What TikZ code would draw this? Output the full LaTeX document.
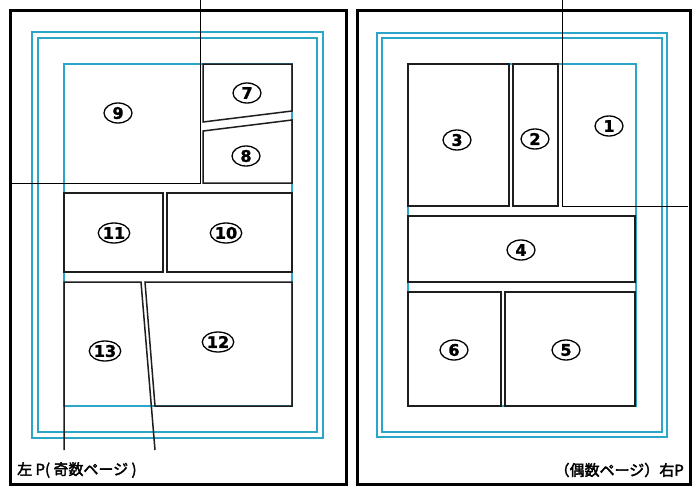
\documentclass[tikz,border=0pt]{standalone}
\usepackage{fontspec}
\usetikzlibrary{shapes.geometric}
\newfontfamily\jpfont{Noto Sans CJK JP}[AutoFakeBold=2.5]
\newfontfamily\numfont{DejaVu Sans}[BoldFeatures={FakeBold=1.6}]
\definecolor{mCyan}{HTML}{2CA6C8}
\definecolor{mInk} {HTML}{1E1E1E}

\begin{document}
\begin{tikzpicture}[
  x=1pt, y=-1pt,
  page/.style={draw=black, line width=3pt},
  guide/.style={draw=mCyan, line width=1.4pt},
  koma/.style={draw=mInk, line width=1.5pt},
  crop/.style={draw=black, line width=0.9pt},
  num/.style={ellipse, draw=black, line width=1.3pt, fill=white, inner sep=0pt,
              minimum width=28pt, minimum height=20pt, font=\numfont\bfseries\fontsize{16}{16}\selectfont},
  pglbl/.style={font=\jpfont\bfseries\fontsize{15}{15}\selectfont, inner sep=0pt},
]
\useasboundingbox (0,0) rectangle (700,495);

% ============================================================ LEFT PAGE
% ---- trim / bleed guides
\draw[guide] (32,32) rectangle (323,438);
\draw[guide] (38,38) rectangle (317,432);
\draw[guide] (64,64) rectangle (292,406);
\draw[page]  (10,11) rectangle (346,484);

% ---- panels
\draw[crop] (200,0) -- (200,183) -- (12,183);                      % 9 (bleed)
\draw[koma] (203,64) -- (292,64) -- (292,111) -- (203,122) -- cycle; % 7
\draw[koma] (203,131) -- (292,120) -- (292,183) -- (203,183) -- cycle; % 8
\draw[koma] (64,193) rectangle (163,272);                          % 11
\draw[koma] (167,193) rectangle (292,272);                         % 10
\draw[koma] (64,450) -- (64,282) -- (141,282) -- (155,450);        % 13 (bleed)
\draw[koma] (145,282) -- (292,282) -- (292,406) -- (155,406) -- cycle; % 12

\node[num] (n9)  at (118,113) {9};
\node[num] (n7)  at (247,93)  {7};
\node[num] (n8)  at (246,156) {8};
\node[num] (n11) at (114,233) {11};
\node[num] (n10) at (226,233) {10};
\node[num] (n13) at (105,351) {13};
\node[num] (n12) at (218,342) {12};

\node[pglbl, anchor=west] (lp) at (17,470) {左 P( 奇数ページ )};

% ============================================================ RIGHT PAGE
% ---- trim / bleed guides
\draw[guide] (377,33) rectangle (667,437);
\draw[guide] (382,38) rectangle (662,432);
\draw[guide] (408,64) rectangle (636,406);
\draw[page]  (357,11) rectangle (690,484);

% ---- panels
\draw[crop] (562,0) -- (562,206) -- (688,206);                     % 1 (bleed)
\draw[koma] (513,64) rectangle (558,206);                          % 2
\draw[koma] (408,64) rectangle (509,206);                          % 3
\draw[koma] (408,216) rectangle (635,282);                         % 4
\draw[koma] (505,292) rectangle (635,406);                         % 5
\draw[koma] (408,292) rectangle (501,406);                         % 6

\node[num] (n1) at (609,126) {1};
\node[num] (n2) at (535,139) {2};
\node[num] (n3) at (457,140) {3};
\node[num] (n4) at (521,250) {4};
\node[num] (n5) at (566,350) {5};
\node[num] (n6) at (454,350) {6};

\node[pglbl, anchor=east] (rp) at (684,470) {（偶数ページ）右P};

\end{tikzpicture}
\end{document}
